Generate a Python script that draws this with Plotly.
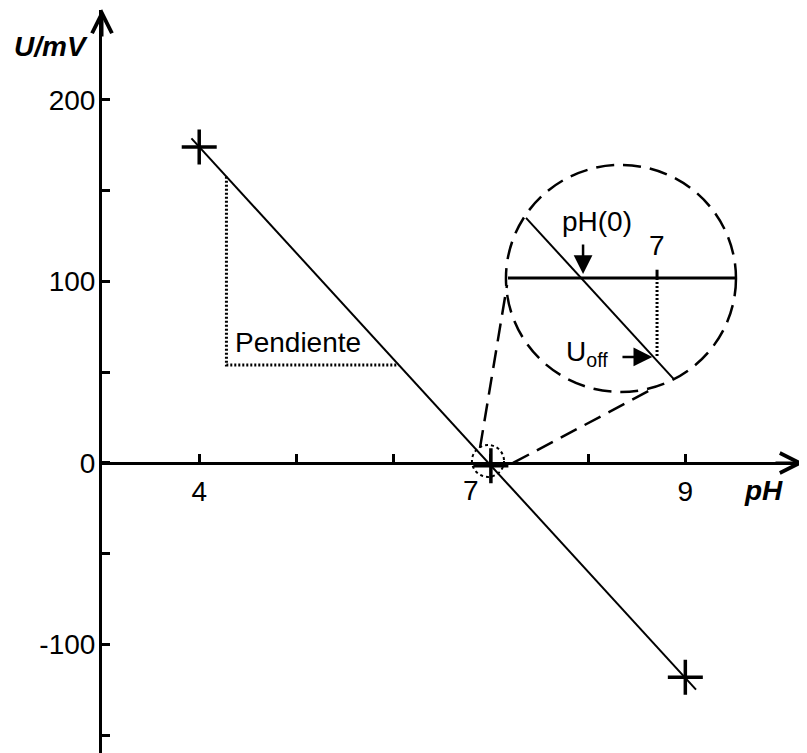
import plotly.graph_objects as go

# ---------------- data ----------------
ph_points = [4, 7, 9]
u_points = [174, -1.5, -118]

line_ph = [3.92, 9.11]
line_u = [178.7, -124.8]

# slope ("Pendiente") triangle
tri_ph = [4.28, 4.28, 6.05]
tri_u = [157.6, 54.0, 54.0]

x_tickvals = [4, 5, 6, 7, 8, 9]
x_ticktext = ["4", "", "", "", "", "9"]
y_tickvals = [-150, -100, -50, 0, 50, 100, 150, 200]
y_ticktext = ["", "-100", "", "0", "", "100", "", "200"]

x_range = [3.0, 10.2]
y_range = [-159.7, 249.4]

# inset (magnified schematic of the zero crossing)
small_center = (6.97, 1.1)
small_r = (0.165, 8.8)
big_box = (7.155, 9.521, 39.1, 164.1)        # x0, x1, y0, y1
inset_axis_ph = [7.176, 9.511]
inset_axis_u = 101.9
inset_ph0 = 7.927                             # where inset line crosses inset axis
inset_line_ph = [7.361, 8.884]
inset_tick_ph = 8.709
inset_uoff_u = 58.4
conn_left = ([6.888, 7.166], [8.3, 98.0])
conn_right = ([7.228, 8.699], [0.0, 41.8])

FONT = "Arial, Liberation Sans, sans-serif"
FS = 28

slope = (u_points[2] - u_points[0]) / (ph_points[2] - ph_points[0])
inset_line_u = [inset_axis_u + slope * (p - inset_ph0) for p in inset_line_ph]

fig = go.Figure()

fig.add_trace(go.Scatter(x=line_ph, y=line_u, mode="lines",
                         line=dict(color="black", width=2), hoverinfo="skip"))
fig.add_trace(go.Scatter(x=ph_points, y=u_points, mode="markers",
                         marker=dict(symbol="cross-thin", size=25,
                                     line=dict(color="black", width=3.5)),
                         hoverinfo="skip"))

shapes = []
# slope triangle (dotted)
shapes.append(dict(type="path", xref="x", yref="y",
                   path=f"M{tri_ph[0]},{tri_u[0]} L{tri_ph[1]},{tri_u[1]} L{tri_ph[2]},{tri_u[2]}",
                   line=dict(color="black", width=3, dash="2px,2px")))
# small dotted circle
shapes.append(dict(type="circle", xref="x", yref="y",
                   x0=small_center[0] - small_r[0], x1=small_center[0] + small_r[0],
                   y0=small_center[1] - small_r[1], y1=small_center[1] + small_r[1],
                   line=dict(color="black", width=2, dash="3px,3px")))
# big dashed circle
shapes.append(dict(type="circle", xref="x", yref="y",
                   x0=big_box[0], x1=big_box[1], y0=big_box[2], y1=big_box[3],
                   line=dict(color="black", width=2.5, dash="18px,9px")))
# connectors
for cx, cy in (conn_left, conn_right):
    shapes.append(dict(type="line", xref="x", yref="y",
                       x0=cx[0], y0=cy[0], x1=cx[1], y1=cy[1],
                       line=dict(color="black", width=2.5, dash="18px,9px")))
# inset axis
shapes.append(dict(type="line", xref="x", yref="y",
                   x0=inset_axis_ph[0], x1=inset_axis_ph[1], y0=inset_axis_u, y1=inset_axis_u,
                   line=dict(color="black", width=3)))
# inset tick at 7
shapes.append(dict(type="line", xref="x", yref="y",
                   x0=inset_tick_ph, x1=inset_tick_ph, y0=inset_axis_u, y1=inset_axis_u + 4.5,
                   line=dict(color="black", width=3)))
# inset dotted drop
shapes.append(dict(type="line", xref="x", yref="y",
                   x0=inset_tick_ph, x1=inset_tick_ph, y0=inset_axis_u, y1=inset_uoff_u,
                   line=dict(color="black", width=3, dash="2px,2px")))
# inset line
shapes.append(dict(type="line", xref="x", yref="y",
                   x0=inset_line_ph[0], x1=inset_line_ph[1],
                   y0=inset_line_u[0], y1=inset_line_u[1],
                   line=dict(color="black", width=2)))

annotations = []
tfont = dict(family=FONT, size=FS, color="black")
txt = dict(font=tfont, showarrow=False, xref="x", yref="y")
annotations.append(dict(text="Pendiente", x=4.35, y=66.6, xanchor="left", yanchor="middle", **txt))
annotations.append(dict(text="7", x=6.80, y=-14.9, xanchor="center", yanchor="middle", **txt))
annotations.append(dict(text="<b><i>pH</i></b>", x=9.809, y=-15.4, xanchor="center", yanchor="middle", **txt))
annotations.append(dict(text="pH(0)", x=8.092, y=132.7, xanchor="center", yanchor="middle", **txt))
annotations.append(dict(text="7", x=inset_tick_ph, y=120.0, xanchor="center", yanchor="middle", **txt))
annotations.append(dict(text="U<sub>off</sub>", x=8.22, y=60.0, xanchor="right", yanchor="middle", **txt))

# plot area in px: left 102, right 802, top 10, bottom 753 (page coords)
PL, PW, PT, PH = 102.0, 700.0, 10.0, 743.0
def px_to_paper(px, py):
    return (px - PL) / PW, (PT + PH - py) / PH

ux, uy = px_to_paper(51, 47)
annotations.append(dict(text="<b><i>U/mV</i></b>", x=ux, y=uy, xref="paper", yref="paper",
                        xanchor="center", yanchor="middle", showarrow=False, font=tfont))

arr = dict(text="", showarrow=True, arrowcolor="black", standoff=0)
pos = -y_range[0] / (y_range[1] - y_range[0])
# axis arrows (paper refs so they are not hidden outside the ranges)
tx, ty = px_to_paper(101, 8)
annotations.append(dict(x=0, y=ty, xref="paper", yref="paper", ax=0, ay=30,
                        arrowhead=5, arrowsize=1.3, arrowwidth=3, **arr))
rx, _ = px_to_paper(804, 463)
annotations.append(dict(x=rx, y=pos, xref="paper", yref="paper", ax=-30, ay=0,
                        arrowhead=5, arrowsize=1.3, arrowwidth=3, **arr))
# inset arrows
iarr = dict(xref="x", yref="y", axref="x", ayref="y", **arr)
annotations.append(dict(x=7.948, y=104.0, ax=7.948, ay=121.1, arrowhead=2,
                        arrowsize=1.5, arrowwidth=2.5, **iarr))
annotations.append(dict(x=8.66, y=inset_uoff_u, ax=8.338, ay=inset_uoff_u, arrowhead=2,
                        arrowsize=1.5, arrowwidth=2.5, **iarr))

axis_common = dict(showgrid=False, zeroline=False, showline=True, linecolor="black",
                   linewidth=3, ticks="inside", ticklen=8, tickwidth=3, tickcolor="black",
                   tickfont=tfont, automargin=False, fixedrange=True)

fig.update_layout(
    width=799, height=745,
    margin=dict(l=94, r=5, t=2, b=0),
    paper_bgcolor="white", plot_bgcolor="white",
    showlegend=False,
    xaxis=dict(range=x_range, tickmode="array", tickvals=x_tickvals, ticktext=x_ticktext,
               anchor="free", position=pos, ticklabelstandoff=2, **axis_common),
    yaxis=dict(range=y_range, tickmode="array", tickvals=y_tickvals, ticktext=y_ticktext,
               ticklabelstandoff=-2, **axis_common),
    shapes=shapes,
    annotations=annotations,
)

fig.write_html("out.html")
